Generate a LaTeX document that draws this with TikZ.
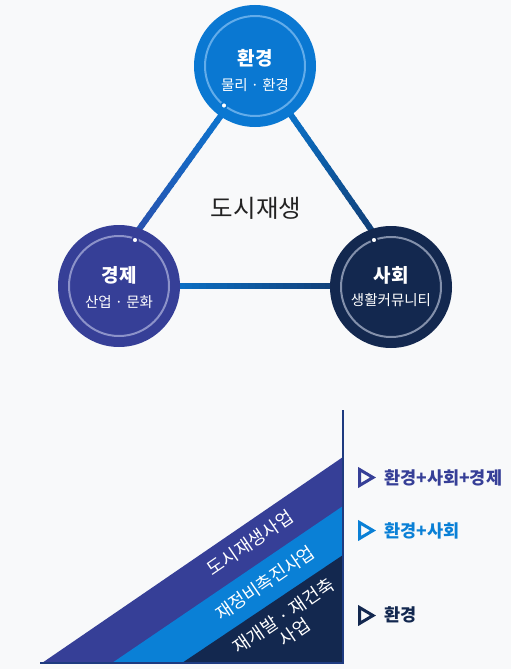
\documentclass[tikz,border=0pt]{standalone}
\usepackage{fontspec}
\setmainfont{Noto Sans CJK KR}
\usetikzlibrary{calc}
\definecolor{bg}{HTML}{F8F9FA}
\definecolor{cEnv}{HTML}{0A78D2}
\definecolor{cEnvRing}{HTML}{62ACEA}
\definecolor{cEco}{HTML}{363F97}
\definecolor{cEcoRing}{HTML}{8C92C9}
\definecolor{cSoc}{HTML}{13284F}
\definecolor{cSocRing}{HTML}{8390AB}
\definecolor{cBlue}{HTML}{0A80D6}
\definecolor{cTxt}{HTML}{222222}
\definecolor{cAxis}{HTML}{1E3B80}
\definecolor{cTL}{HTML}{2C4DAA}
\definecolor{cTR}{HTML}{11396E}
\definecolor{cBR}{HTML}{12386C}
\newcommand{\gradconn}[4]{%
  \foreach \i in {0,...,29}{%
    \pgfmathsetmacro\pa{\i/30}%
    \pgfmathsetmacro\pb{min(1,(\i+1.3)/30)}%
    \pgfmathtruncatemacro\mix{100-(\i+0.5)*100/30}%
    \draw[conn, draw=#3!\mix!#4] ($(#1)!\pa!(#2)$) -- ($(#1)!\pb!(#2)$);
  }}
\tikzset{
  circ/.style={circle, minimum size=122pt, inner sep=0pt},
  ring/.style={line width=2pt},
  conn/.style={line width=6pt, line cap=butt},
  dotmark/.style={circle, fill=white, inner sep=0pt, minimum size=6pt, line width=1.5pt},
  ctitle/.style={text=white, font=\bfseries\fontsize{19}{21}\selectfont, inner sep=0pt},
  csub/.style={text=white, font=\fontsize{14.5}{16}\selectfont, inner sep=0pt},
  band/.style={text=white, font=\fontsize{18}{20}\selectfont, inner sep=0pt, rotate=34.4, align=center},
  lab/.style={anchor=west, font=\bfseries\fontsize{17.5}{19}\selectfont, inner sep=0pt},
  marker/.style={line width=3pt, line join=miter}
}
\begin{document}
\begin{tikzpicture}[x=1pt,y=-1pt]
\useasboundingbox (0,0) rectangle (511,669);
\fill[bg] (0,0) rectangle (511,669);
% connector end points (hidden under circles)
\coordinate (tl1) at (232,100.3);
\coordinate (tl2) at (125,248.8);
\coordinate (tr1) at (280,99.4);
\coordinate (tr2) at (382,245.1);
\coordinate (b1) at (150,286);
\coordinate (b2) at (360,286);
\gradconn{tl1}{tl2}{cEnv}{cTL}
\gradconn{tr1}{tr2}{cEnv}{cTR}
\gradconn{b1}{b2}{cEnv}{cBR}
% circles
\node[circ, fill=cEnv] (env) at (255,66) {};
\node[circ, fill=cEco] (eco) at (119,286) {};
\node[circ, fill=cSoc] (soc) at (391,287) {};
\draw[ring, cEnvRing] (env.center) circle[radius=50pt];
\draw[ring, cEcoRing] (eco.center) circle[radius=50pt];
\draw[ring, cSocRing] (soc.center) circle[radius=50pt];
\node[dotmark, draw=cEnv] (envdot) at ($(env.center)+(-31,39.5)$) {};
\node[dotmark, draw=cEco] (ecodot) at ($(eco.center)+(16,-46)$) {};
\node[dotmark, draw=cSoc] (socdot) at ($(soc.center)+(-17,-47)$) {};
\node[ctitle] (envt) at ($(env.center)+(0,-8)$) {환경};
\node[csub] (envs) at ($(env.center)+(0,19)$) {물리 · 환경};
\node[ctitle] (ecot) at ($(eco.center)+(0,-11)$) {경제};
\node[csub] (ecos) at ($(eco.center)+(0,16)$) {산업 · 문화};
\node[ctitle] (soct) at ($(soc.center)+(0,-12)$) {사회};
\node[csub] (socs) at ($(soc.center)+(0,13)$) {생활커뮤니티};
\node[text=cTxt, font=\fontsize{24.5}{27}\selectfont, inner sep=0pt] (center) at (256,208) {도시재생};
% bands
\fill[cEco] (42,663) -- (343,457) -- (343,663) -- cycle;
\fill[cBlue] (112,663) -- (343,506) -- (343,663) -- cycle;
\fill[cSoc] (182,663) -- (343,555) -- (343,663) -- cycle;
\draw[cAxis, line width=1.3pt] (343,410) -- (343,663) -- (40,663);
\node[band] (b1t) at (250,543) {도시재생사업};
\node[band] (b2t) at (265,583) {재정비촉진사업};
\node[band] (b3t) at (289,624) {재개발 · 재건축\\사업};
% labels
\draw[marker, cEco] (359.5,469.5) -- (373,477.5) -- (359.5,485.5) -- cycle;
\node[lab, text=cEco] (l1) at (384,478) {환경+사회+경제};
\draw[marker, cBlue] (359.5,522.5) -- (373,530.5) -- (359.5,538.5) -- cycle;
\node[lab, text=cBlue] (l2) at (384,531) {환경+사회};
\draw[marker, cSoc] (359.5,607.5) -- (373,615.5) -- (359.5,623.5) -- cycle;
\node[lab, text=cSoc] (l3) at (384,615) {환경};
\end{tikzpicture}
\end{document}
